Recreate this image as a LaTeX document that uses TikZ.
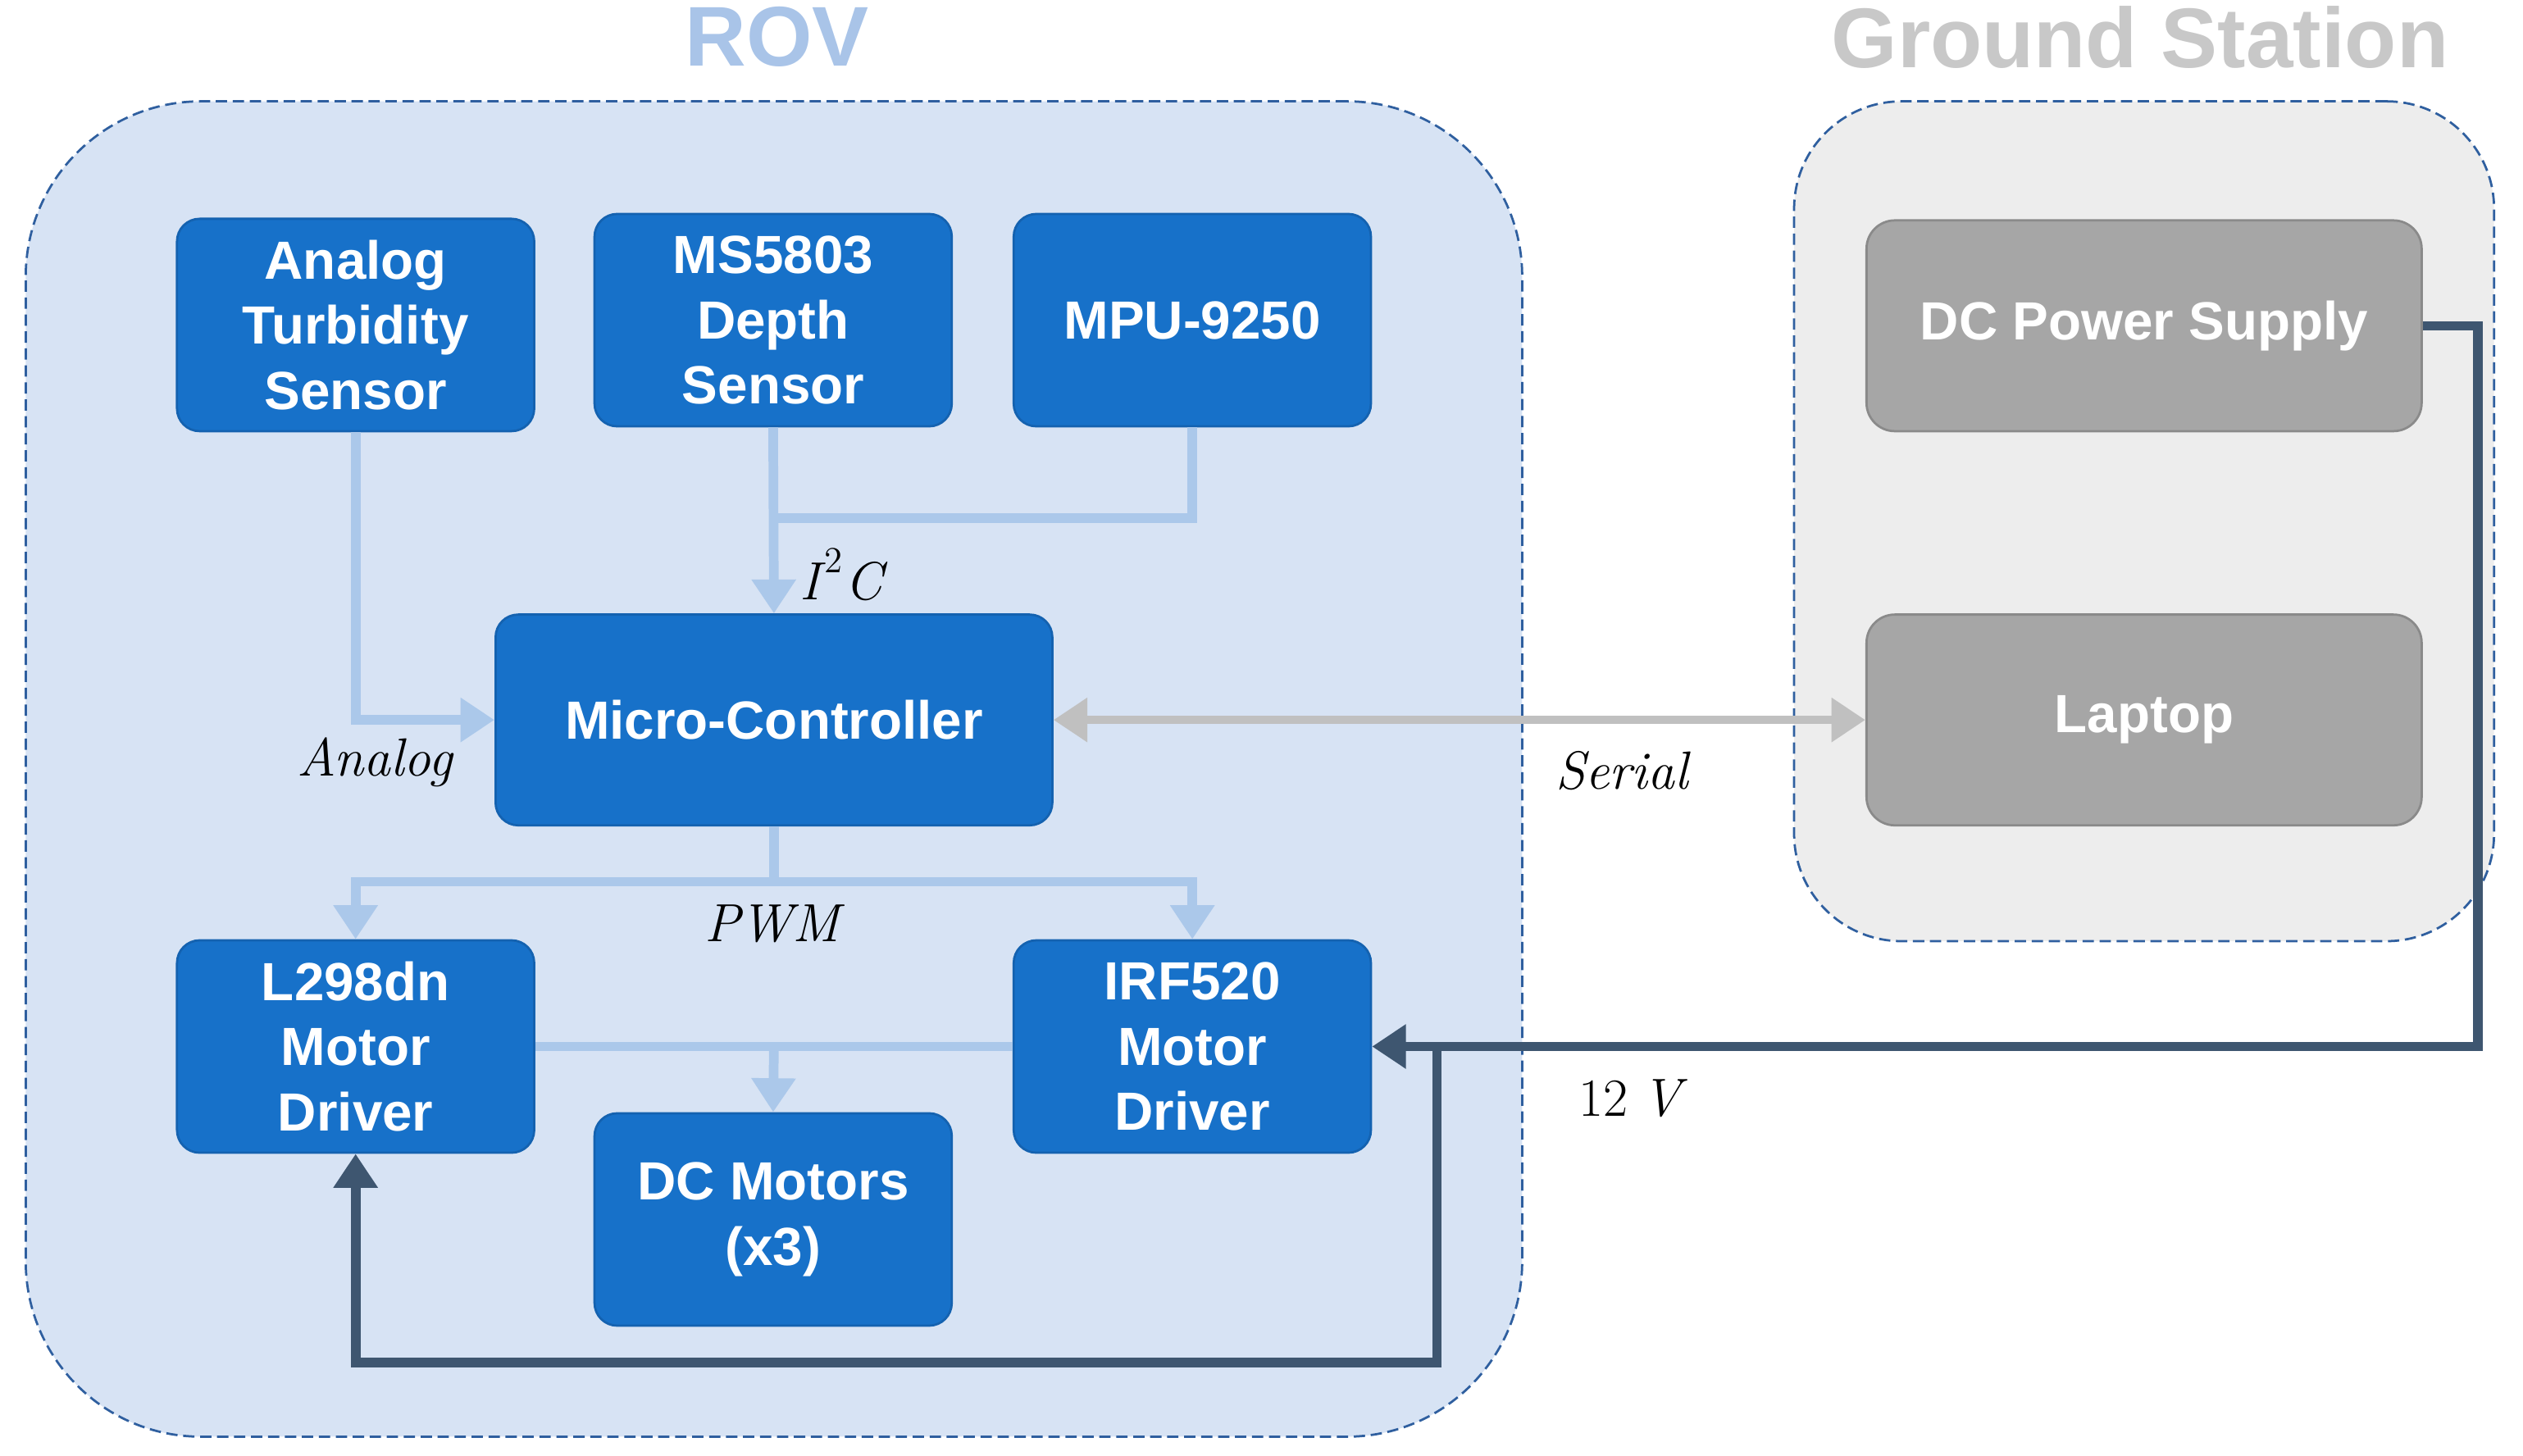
\documentclass[tikz,border=0pt]{standalone}
\usepackage{fontspec}
\setsansfont{Liberation Sans}
\usetikzlibrary{arrows.meta}
\definecolor{boxblue}{HTML}{1771C9}
\definecolor{boxedge}{HTML}{1462B0}
\definecolor{rovfill}{HTML}{D7E3F4}
\definecolor{gsfill}{HTML}{EDEDED}
\definecolor{dashblue}{HTML}{2F5F9F}
\definecolor{lite}{HTML}{ABC8EA}
\definecolor{titleblue}{HTML}{A9C4E8}
\definecolor{titlegray}{HTML}{C8C8C8}
\definecolor{graybox}{HTML}{A6A6A6}
\definecolor{grayedge}{HTML}{8A8A8A}
\definecolor{serialgray}{HTML}{C0C0C0}
\definecolor{darkline}{HTML}{3E5670}
\tikzset{
  blockb/.style={draw=boxedge, fill=boxblue, rounded corners=8pt, text=white,
    font=\sffamily\bfseries\fontsize{19}{23}\selectfont, align=center,
    line width=0.8pt, minimum width=44.4mm, minimum height=26.4mm, inner sep=0pt},
  blockg/.style={draw=grayedge, fill=graybox, rounded corners=10pt, text=white,
    font=\sffamily\bfseries\fontsize{19}{23}\selectfont, align=center,
    line width=0.8pt, minimum width=69mm, minimum height=26.2mm, inner sep=0pt},
  container/.style={draw=dashblue, dash pattern=on 4pt off 2pt, line width=0.8pt, inner sep=0pt},
  titletext/.style={font=\sffamily\bfseries\fontsize{30}{34}\selectfont},
  lbl/.style={font=\itshape\fontsize{19}{23}\selectfont, inner sep=0pt},
  liteline/.style={draw=lite, line width=3.4pt},
  litearrow/.style={liteline, -{Triangle[length=12pt,width=15pt]}},
  serialarrow/.style={draw=serialgray, line width=3pt, {Triangle[length=12pt,width=15pt]}-{Triangle[length=12pt,width=15pt]}},
  powerline/.style={draw=darkline, line width=3.4pt},
  powerarrow/.style={powerline, -{Triangle[length=12pt,width=15pt]}},
}
\begin{document}
\begin{tikzpicture}[x=0.2mm,y=-0.2mm]
\useasboundingbox (0,0) rectangle (1568,905);
% containers
\node[container, fill=rovfill, rounded corners=62pt, minimum width=186mm, minimum height=166mm] (rov) at (481,478) {};
\node[container, fill=gsfill, rounded corners=38pt, minimum width=87mm, minimum height=104.4mm] (gs) at (1332.5,324) {};
% titles
\node[titletext, text=titleblue] (rovtitle) at (483,23) {ROV};
\node[titletext, text=titlegray] (gstitle) at (1330,23) {Ground Station};
% blocks
\node[blockb] (turb) at (221,202) {Analog\\Turbidity\\Sensor};
\node[blockb] (ms) at (480.5,199) {MS5803\\Depth\\Sensor};
\node[blockb] (mpu) at (741,199) {MPU-9250};
\node[blockb, minimum width=69.2mm, minimum height=26.2mm] (mc) at (481,447.5) {Micro-Controller};
\node[blockb] (l298) at (221,650.5) {L298dn\\Motor\\Driver};
\node[blockb] (irf) at (741,650.5) {IRF520\\Motor\\Driver};
\node[blockb] (dcm) at (480.5,758) {DC Motors\\(x3)};
\node[blockg] (dcps) at (1332.5,202.5) {DC Power Supply};
\node[blockg] (laptop) at (1332.5,447.5) {Laptop};
% junctions
\coordinate (j1) at (481,322);
\coordinate (j2) at (481,548);
\coordinate (j3) at (481,649);
\coordinate (c2) at (1540,650.5);
\coordinate (c3) at (893,650.5);
\coordinate (c4) at (893,847);
% light connectors
\draw[litearrow] (turb.south) |- (mc.west);
\draw[liteline] (mpu.south) |- (j1);
\draw[litearrow] (ms.south) -- (mc.north);
\draw[liteline] (mc.south) -- (j2);
\draw[litearrow] (j2) -| (l298.north);
\draw[litearrow] (j2) -| (irf.north);
\draw[liteline] (l298.east) -- (irf.west);
\draw[litearrow] (j3) -- (dcm.north);
% serial
\draw[serialarrow] (mc.east) -- (laptop.west);
% power
\draw[powerarrow] (dcps.east) -| (c2) -- (irf.east);
\draw[powerarrow] (c3) -- (c4) -| (l298.south);
% labels
\node[lbl] (lanalog) at (233,474) {Analog};
\node[lbl] (li2c) at (523,357) {I\kern0.08em\raisebox{0.5em}{\fontsize{13}{13}\selectfont\upshape 2}\kern0.05em C};
\node[lbl] (lpwm) at (480,574) {PWM};
\node[lbl] (lserial) at (1008,479) {Serial};
\node[lbl] (lv) at (1013,683) {\upshape 12\hspace{0.25em}\itshape V};
\end{tikzpicture}
\end{document}
